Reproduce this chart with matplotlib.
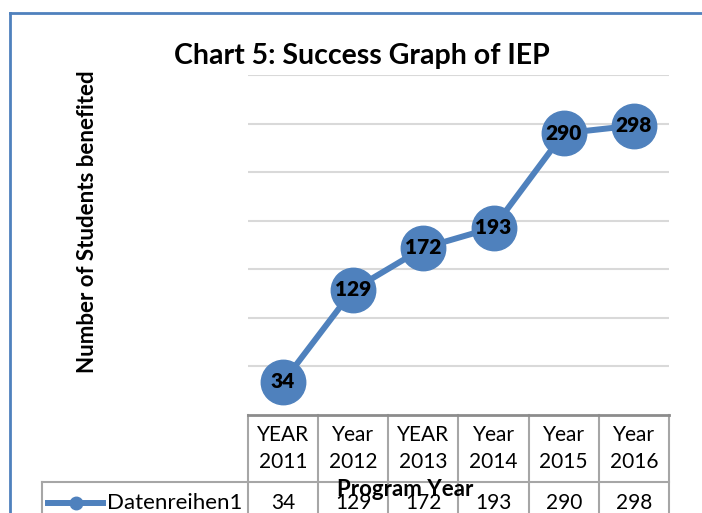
import matplotlib
matplotlib.use("Agg")
import matplotlib.pyplot as plt
from matplotlib.lines import Line2D

plt.rcParams['font.family'] = ['Lato', 'DejaVu Sans']

# data
categories = ["YEAR\n2011", "Year\n2012", "YEAR\n2013", "Year\n2014", "Year\n2015", "Year\n2016"]
students = [34, 129, 172, 193, 290, 298]
series_name = "Datenreihen1"

blue = "#4f81bd"
grid_c = "#d9d9d9"
table_c = "#a6a6a6"

fig = plt.figure(figsize=(7.02, 5.13), dpi=100)
ax = fig.add_axes([248/702, 98/513, 421/702, 340/513])

xs = range(len(students))
ax.plot(xs, students, color=blue, lw=4.3, marker="o", markersize=32,
        markerfacecolor=blue, markeredgecolor=blue, zorder=3)
for x, v in zip(xs, students):
    ax.text(x, v, str(v), ha="center", va="center", fontsize=15,
            fontweight="heavy", color="black", zorder=4)

ax.set_xlim(-0.5, len(students) - 0.5)
ax.set_ylim(0, 350)
ax.set_yticks(range(50, 351, 50))
ax.yaxis.grid(True, color=grid_c, lw=1.5)
ax.set_axisbelow(True)
ax.tick_params(left=False, bottom=False, labelleft=False, labelbottom=False)
for s in ["left", "right", "top"]:
    ax.spines[s].set_visible(False)
ax.spines["bottom"].set_color("#8c8c8c")
ax.spines["bottom"].set_linewidth(2)

# data table under the axis
tr = ax.get_xaxis_transform()
row1 = -0.197
row2 = -0.40
n = len(categories)
for i in range(n + 1):
    ax.plot([i - 0.5, i - 0.5], [0, row2], color=table_c, lw=1.5,
            transform=tr, clip_on=False)
legend_left = -3.43
ax.plot([-0.5, n - 0.5], [row1, row1], color=table_c, lw=1.5,
        transform=tr, clip_on=False)
ax.plot([legend_left, -0.5], [row1, row1], color=table_c, lw=1.5,
        transform=tr, clip_on=False)
ax.plot([legend_left, legend_left], [row1, row2], color=table_c, lw=1.5,
        transform=tr, clip_on=False)
for i, (c, v) in enumerate(zip(categories, students)):
    ax.text(i, row1 / 2, c, ha="center", va="center", fontsize=15,
            linespacing=1.4, transform=tr)
    ax.text(i, row1 - 0.062, str(v), ha="center", va="center", fontsize=15,
            transform=tr)

# legend key in the table
ax.add_line(Line2D([legend_left + 0.08, legend_left + 0.87], [row1 - 0.062] * 2,
                   color=blue, lw=4.3, transform=tr, clip_on=False))
ax.plot([legend_left + 0.475], [row1 - 0.062], marker="o", markersize=9,
        color=blue, transform=tr, clip_on=False)
ax.text(legend_left + 0.92, row1 - 0.062, series_name, ha="left", va="center",
        fontsize=16, transform=tr)

ax.set_title("Chart 5: Success Graph of IEP", fontsize=20.5, fontweight="bold",
             x=0.27, pad=8)
fig.text(405/702, 1 - 490/513, "Program Year", ha="center", va="center",
         fontsize=16, fontweight="bold")
fig.text(88/702, 1 - 222/513, "Number of Students benefited", rotation=90,
         ha="center", va="center", fontsize=16, fontweight="bold")

# chart area border
fig.add_artist(Line2D([9.5/702, 1], [1 - 12.5/513] * 2, color=blue, lw=2))
fig.add_artist(Line2D([9.5/702] * 2, [0, 1 - 12.5/513], color=blue, lw=2))

fig.savefig("out.png", dpi=100)
